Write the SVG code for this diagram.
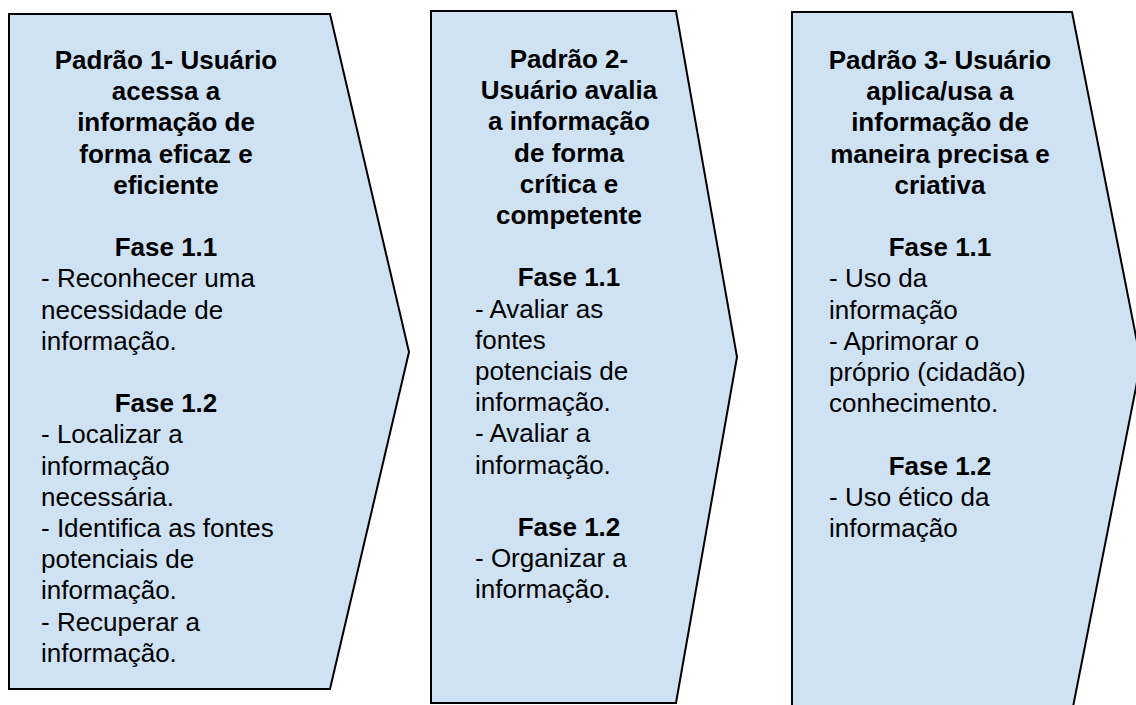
<svg xmlns="http://www.w3.org/2000/svg" width="1136" height="705" viewBox="0 0 1136 705">
<style>
.shape{fill:#cfe2f3;stroke:#000;stroke-width:2;stroke-linejoin:miter}
text{font-family:"Liberation Sans",Arial,sans-serif;font-size:26px;fill:#000}
.b{font-weight:bold;text-anchor:middle}
</style>
<rect width="1136" height="705" fill="#fff"/>
<g id="padrao1">
<polygon class="shape" points="9,14 330,14 409,352 330,689 9,689"/>
<text class="b"><tspan x="166" y="69">Padrão 1- Usuário</tspan><tspan x="166" y="100.2">acessa a</tspan><tspan x="166" y="131.4">informação de</tspan><tspan x="166" y="162.6">forma eficaz e</tspan><tspan x="166" y="193.8">eficiente</tspan><tspan x="166" y="256.2">Fase 1.1</tspan><tspan x="166" y="412.2">Fase 1.2</tspan></text>
<text><tspan x="41" y="287.4">- Reconhecer uma</tspan><tspan x="41" y="318.6">necessidade de</tspan><tspan x="41" y="349.8">informação.</tspan><tspan x="41" y="443.4">- Localizar a</tspan><tspan x="41" y="474.6">informação</tspan><tspan x="41" y="505.8">necessária.</tspan><tspan x="41" y="537">- Identifica as fontes</tspan><tspan x="41" y="568.2">potenciais de</tspan><tspan x="41" y="599.4">informação.</tspan><tspan x="41" y="630.6">- Recuperar a</tspan><tspan x="41" y="661.8">informação.</tspan></text>
</g>
<g id="padrao2">
<polygon class="shape" points="431,11 676,11 737,357 676,703 431,703"/>
<text class="b"><tspan x="569" y="68">Padrão 2-</tspan><tspan x="569" y="99.2">Usuário avalia</tspan><tspan x="569" y="130.4">a informação</tspan><tspan x="569" y="161.6">de forma</tspan><tspan x="569" y="192.8">crítica e</tspan><tspan x="569" y="224">competente</tspan><tspan x="569" y="286.4">Fase 1.1</tspan><tspan x="569" y="536">Fase 1.2</tspan></text>
<text><tspan x="475" y="317.6">- Avaliar as</tspan><tspan x="475" y="348.8">fontes</tspan><tspan x="475" y="380">potenciais de</tspan><tspan x="475" y="411.2">informação.</tspan><tspan x="475" y="442.4">- Avaliar a</tspan><tspan x="475" y="473.6">informação.</tspan><tspan x="475" y="567.2">- Organizar a</tspan><tspan x="475" y="598.4">informação.</tspan></text>
</g>
<g id="padrao3">
<polygon class="shape" points="792,12 1072,12 1141,362 1072,712 792,712"/>
<text class="b"><tspan x="940" y="69">Padrão 3- Usuário</tspan><tspan x="940" y="100.2">aplica/usa a</tspan><tspan x="940" y="131.4">informação de</tspan><tspan x="940" y="162.6">maneira precisa e</tspan><tspan x="940" y="193.8">criativa</tspan><tspan x="940" y="256.2">Fase 1.1</tspan><tspan x="940" y="474.6">Fase 1.2</tspan></text>
<text><tspan x="829" y="287.4">- Uso da</tspan><tspan x="829" y="318.6">informação</tspan><tspan x="829" y="349.8">- Aprimorar o</tspan><tspan x="829" y="381">próprio (cidadão)</tspan><tspan x="829" y="412.2">conhecimento.</tspan><tspan x="829" y="505.8">- Uso ético da</tspan><tspan x="829" y="537">informação</tspan></text>
</g>
<g id="connectors"/>
</svg>
